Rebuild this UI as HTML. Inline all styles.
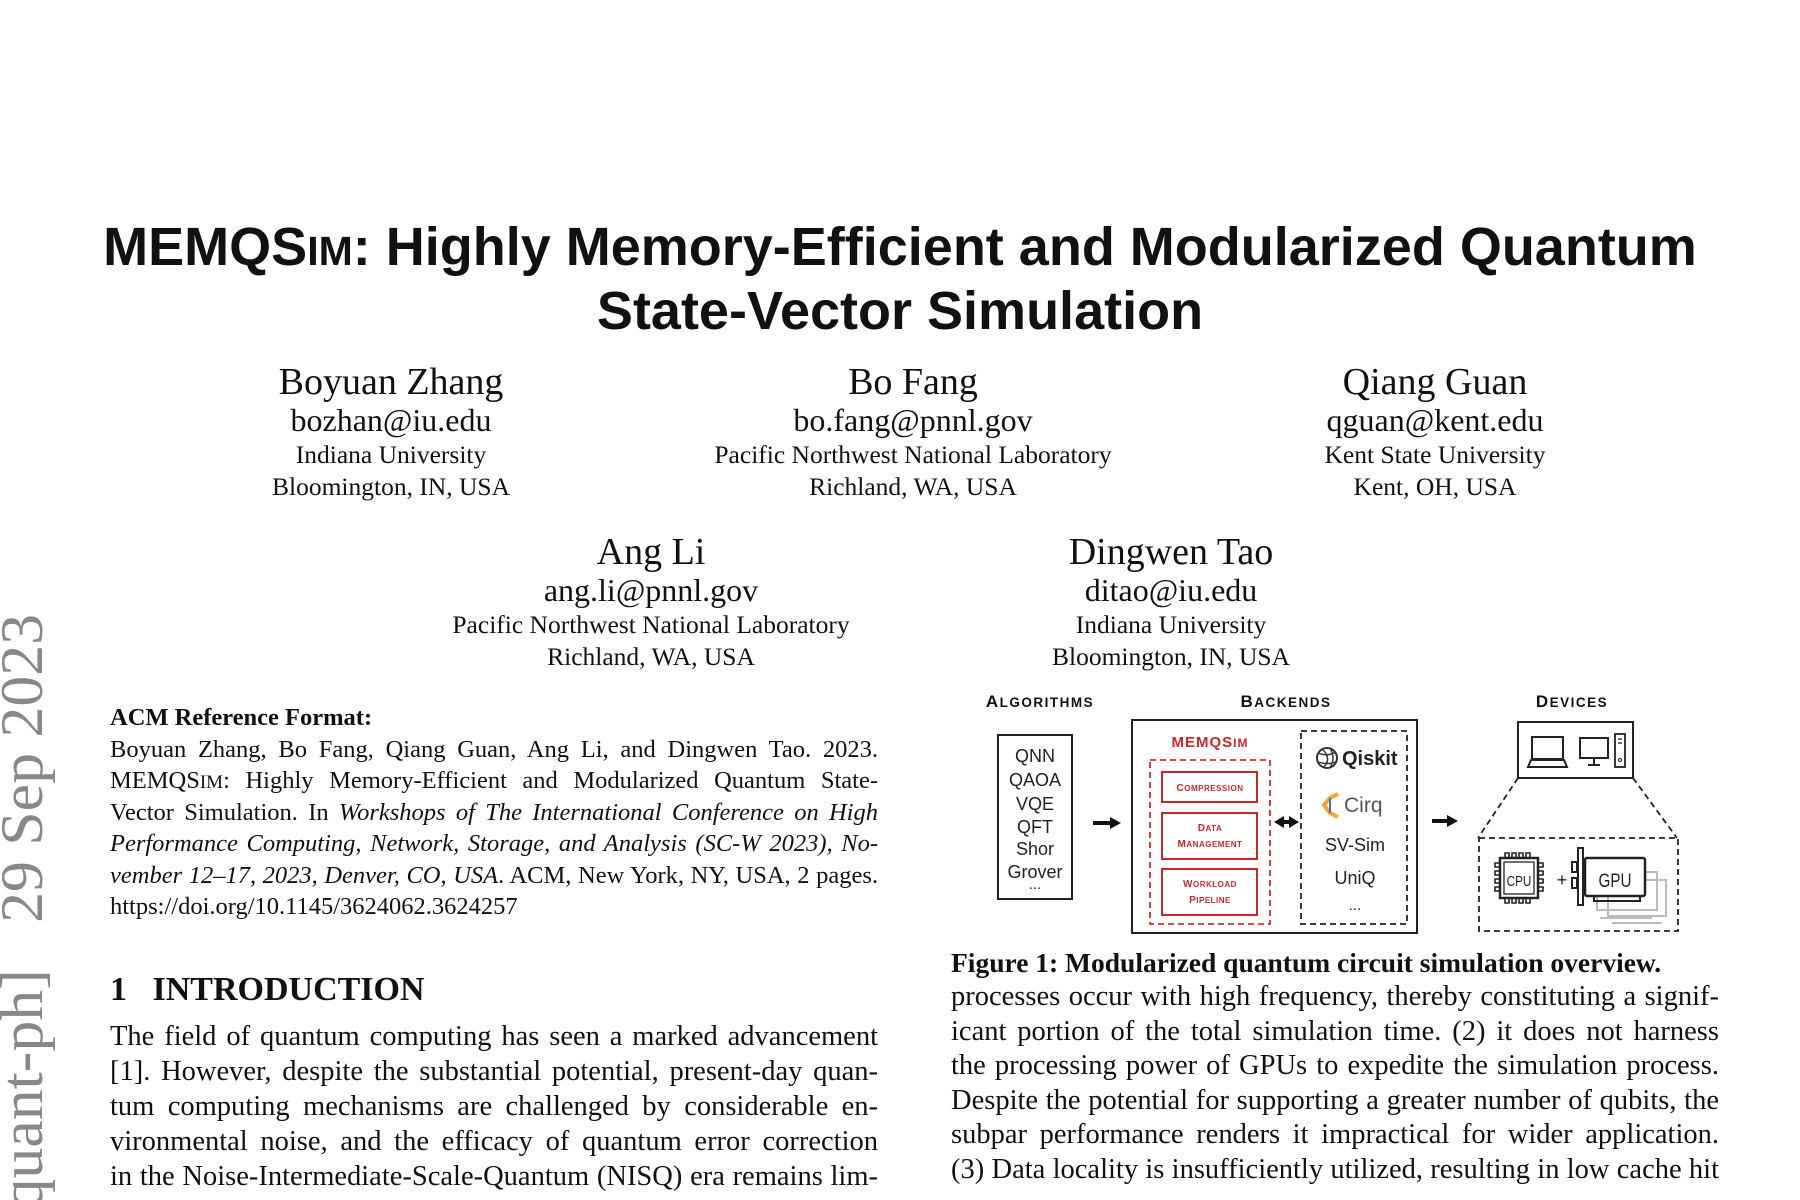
<!DOCTYPE html>
<html><head><meta charset="utf-8"><style>
html,body{margin:0;padding:0;background:#fff}
body{width:1800px;height:1200px;position:relative;overflow:hidden;font-family:"Liberation Serif",serif;color:#111}
.a{position:absolute;white-space:nowrap}
.c{transform:translateX(-50%);text-align:center}
.title{font-family:"Liberation Sans",sans-serif;font-weight:bold;font-size:54px;left:0;width:1800px;text-align:center}
.nm{font-size:38px}
.em{font-size:32px}
.af{font-size:25.5px}
.jl{position:absolute;left:110px;width:768px;text-align:justify;text-align-last:justify;white-space:nowrap}
.rl{position:absolute;left:951px;width:768px;text-align:justify;text-align-last:justify;white-space:nowrap}
.ref{font-size:24.5px}
.body{font-size:28.5px}
</style></head><body>

<div class="a title" style="top:216px">MEMQS<span style="font-size:41px">IM</span>: Highly Memory-Efficient and Modularized Quantum</div>
<div class="a title" style="top:280px">State-Vector Simulation</div>

<div class="a c nm" style="left:391px;top:360px">Boyuan Zhang</div>
<div class="a c em" style="left:391px;top:402px">bozhan@iu.edu</div>
<div class="a c af" style="left:391px;top:440px">Indiana University</div>
<div class="a c af" style="left:391px;top:472px">Bloomington, IN, USA</div>

<div class="a c nm" style="left:913px;top:360px">Bo Fang</div>
<div class="a c em" style="left:913px;top:402px">bo.fang@pnnl.gov</div>
<div class="a c af" style="left:913px;top:440px">Pacific Northwest National Laboratory</div>
<div class="a c af" style="left:913px;top:472px">Richland, WA, USA</div>

<div class="a c nm" style="left:1435px;top:360px">Qiang Guan</div>
<div class="a c em" style="left:1435px;top:402px">qguan@kent.edu</div>
<div class="a c af" style="left:1435px;top:440px">Kent State University</div>
<div class="a c af" style="left:1435px;top:472px">Kent, OH, USA</div>

<div class="a c nm" style="left:651px;top:530px">Ang Li</div>
<div class="a c em" style="left:651px;top:572px">ang.li@pnnl.gov</div>
<div class="a c af" style="left:651px;top:610px">Pacific Northwest National Laboratory</div>
<div class="a c af" style="left:651px;top:642px">Richland, WA, USA</div>

<div class="a c nm" style="left:1171px;top:530px">Dingwen Tao</div>
<div class="a c em" style="left:1171px;top:572px">ditao@iu.edu</div>
<div class="a c af" style="left:1171px;top:610px">Indiana University</div>
<div class="a c af" style="left:1171px;top:642px">Bloomington, IN, USA</div>

<div class="a ref" style="left:110px;top:704px;font-weight:bold">ACM Reference Format:</div>
<div class="jl ref" style="top:736px">Boyuan Zhang, Bo Fang, Qiang Guan, Ang Li, and Dingwen Tao. 2023.</div>
<div class="jl ref" style="top:767px">MEMQS<span style="font-size:19px">IM</span>: Highly Memory-Efficient and Modularized Quantum State-</div>
<div class="jl ref" style="top:799px">Vector Simulation. In <i>Workshops of The International Conference on High</i></div>
<div class="jl ref" style="top:830px"><i>Performance Computing, Network, Storage, and Analysis (SC-W 2023), No-</i></div>
<div class="jl ref" style="top:862px"><i>vember 12–17, 2023, Denver, CO, USA</i>. ACM, New York, NY, USA, 2 pages.</div>
<div class="a ref" style="left:110px;top:893px">https://doi.org/10.1145/3624062.3624257</div>

<div class="a" style="left:110px;top:971px;font-size:34px;font-weight:bold">1&nbsp;&nbsp;&nbsp;INTRODUCTION</div>
<div class="jl body" style="top:1021px">The field of quantum computing has seen a marked advancement</div>
<div class="jl body" style="top:1056px">[1]. However, despite the substantial potential, present-day quan-</div>
<div class="jl body" style="top:1091px">tum computing mechanisms are challenged by considerable en-</div>
<div class="jl body" style="top:1126px">vironmental noise, and the efficacy of quantum error correction</div>
<div class="jl body" style="top:1161px">in the Noise-Intermediate-Scale-Quantum (NISQ) era remains lim-</div>

<div class="a" style="left:951px;top:947px;font-size:27.5px;font-weight:bold">Figure 1: Modularized quantum circuit simulation overview.</div>
<div class="rl body" style="top:981px">processes occur with high frequency, thereby constituting a signif-</div>
<div class="rl body" style="top:1016px">icant portion of the total simulation time. (2) it does not harness</div>
<div class="rl body" style="top:1050px">the processing power of GPUs to expedite the simulation process.</div>
<div class="rl body" style="top:1085px">Despite the potential for supporting a greater number of qubits, the</div>
<div class="rl body" style="top:1119px">subpar performance renders it impractical for wider application.</div>
<div class="rl body" style="top:1154px">(3) Data locality is insufficiently utilized, resulting in low cache hit</div>

<svg class="a" style="left:0;top:0" width="1800" height="1200" viewBox="0 0 1800 1200">
<text transform="translate(42,614) rotate(-90) scale(1.03,1)" text-anchor="end" font-family="Liberation Serif" font-size="60" fill="#888">arXiv:2310.01234v1&#160;&#160;[quant-ph]&#160;&#160;&#160;29 Sep 2023</text>

<g font-family="Liberation Sans,sans-serif" font-weight="bold" fill="#111">
<text x="1040" y="707" font-size="17" text-anchor="middle" letter-spacing="1.5">A<tspan font-size="13.5">LGORITHMS</tspan></text>
<text x="1286" y="707" font-size="17" text-anchor="middle" letter-spacing="1.5">B<tspan font-size="13.5">ACKENDS</tspan></text>
<text x="1572" y="707" font-size="17" text-anchor="middle" letter-spacing="1.5">D<tspan font-size="13.5">EVICES</tspan></text>
</g>
<rect x="998" y="735" width="74" height="164" fill="none" stroke="#222" stroke-width="2"/>
<g font-family="Liberation Sans,sans-serif" font-size="18" fill="#222" text-anchor="middle">
<text x="1035" y="762">QNN</text><text x="1035" y="786">QAOA</text><text x="1035" y="810">VQE</text>
<text x="1035" y="833">QFT</text><text x="1035" y="855">Shor</text><text x="1035" y="878">Grover</text>
<text x="1035" y="889" font-size="15">...</text>
</g>
<path d="M1093 823 H1112" stroke="#111" stroke-width="4"/><path d="M1110 817 L1121 823 L1110 829Z" fill="#111"/>
<path d="M1281 822 H1292" stroke="#111" stroke-width="4"/><path d="M1284 816 L1274 822 L1284 828Z M1289 816 L1299 822 L1289 828Z" fill="#111"/>
<path d="M1432 821 H1449" stroke="#111" stroke-width="4"/><path d="M1447 815 L1458 821 L1447 827Z" fill="#111"/>

<rect x="1132" y="720" width="285" height="213" fill="none" stroke="#222" stroke-width="2"/>
<text x="1210" y="747" font-family="Liberation Sans,sans-serif" font-weight="bold" font-size="15" fill="#c8282a" text-anchor="middle" letter-spacing="1">MEMQS<tspan font-size="12">IM</tspan></text>
<rect x="1150" y="760" width="120" height="164" fill="none" stroke="#d03030" stroke-width="1.8" stroke-dasharray="6,4"/>
<g fill="none" stroke="#c8282a" stroke-width="2">
<rect x="1162" y="772" width="95" height="30"/><rect x="1162" y="813" width="95" height="46"/><rect x="1162" y="869" width="95" height="46"/>
</g>
<g font-family="Liberation Sans,sans-serif" font-weight="bold" font-size="10" fill="#c8282a" text-anchor="middle" letter-spacing="0.5">
<text x="1210" y="791">C<tspan font-size="8">OMPRESSION</tspan></text>
<text x="1210" y="831">D<tspan font-size="8">ATA</tspan></text>
<text x="1210" y="847">M<tspan font-size="8">ANAGEMENT</tspan></text>
<text x="1210" y="887">W<tspan font-size="8">ORKLOAD</tspan></text>
<text x="1210" y="903">P<tspan font-size="8">IPELINE</tspan></text>
</g>
<rect x="1301" y="731" width="106" height="193" fill="none" stroke="#222" stroke-width="1.8" stroke-dasharray="6,4"/>
<circle cx="1327" cy="758" r="10" fill="none" stroke="#333" stroke-width="2"/>
<path d="M1318 753 Q1327 757 1336 752 M1318 762 Q1328 765 1336 762 M1322 749 Q1332 758 1324 767 M1330 748 Q1336 758 1330 768" fill="none" stroke="#333" stroke-width="1.4"/>
<text x="1342" y="765" font-family="Liberation Sans,sans-serif" font-size="20" font-weight="bold" fill="#222">Qiskit</text>
<path d="M1338 794 L1330 798 L1324 805 L1330 813 L1338 817" fill="none" stroke="#f5a623" stroke-width="4"/>
<path d="M1330 798 L1330 813" fill="none" stroke="#3b6fd8" stroke-width="2"/>
<text x="1344" y="812" font-family="Liberation Sans,sans-serif" font-size="21" fill="#555">Cirq</text>
<g font-family="Liberation Sans,sans-serif" font-size="18" fill="#222" text-anchor="middle">
<text x="1355" y="851">SV-Sim</text><text x="1355" y="884">UniQ</text><text x="1355" y="910" font-size="15">...</text>
</g>

<rect x="1518" y="722" width="115" height="56" fill="none" stroke="#222" stroke-width="2"/>
<rect x="1532" y="737" width="31" height="22" fill="none" stroke="#222" stroke-width="2"/>
<path d="M1528 767 L1531 760 H1564 L1567 767 Z" fill="none" stroke="#222" stroke-width="2"/>
<rect x="1580" y="738" width="28" height="20" fill="none" stroke="#222" stroke-width="2"/>
<path d="M1594 758 V764 M1588 765 H1600" stroke="#222" stroke-width="2"/>
<rect x="1615" y="734" width="10" height="33" fill="none" stroke="#222" stroke-width="1.8"/>
<path d="M1618 739 H1622 M1618 743 H1622" stroke="#222" stroke-width="1.2"/><circle cx="1620" cy="760" r="1.5" fill="none" stroke="#222"/>
<path d="M1518 778 L1478 838 M1633 778 L1677 838" stroke="#222" stroke-width="1.8" stroke-dasharray="6,4"/>
<rect x="1479" y="838" width="199" height="93" fill="none" stroke="#222" stroke-width="1.8" stroke-dasharray="6,4"/>
<rect x="1500" y="858" width="38" height="40" fill="none" stroke="#222" stroke-width="2.5"/>
<rect x="1504" y="862" width="30" height="32" fill="none" stroke="#222" stroke-width="1.3"/>
<g fill="none" stroke="#222" stroke-width="1.6">
<path d="M1505 858 v-5 h4 v5 M1512 858 v-5 h4 v5 M1519 858 v-5 h4 v5 M1526 858 v-5 h4 v5"/>
<path d="M1505 898 v5 h4 v-5 M1512 898 v5 h4 v-5 M1519 898 v5 h4 v-5 M1526 898 v5 h4 v-5"/>
<path d="M1500 863 h-5 v4 h5 M1500 871 h-5 v4 h5 M1500 879 h-5 v4 h5 M1500 887 h-5 v4 h5"/>
<path d="M1538 863 h5 v4 h-5 M1538 871 h5 v4 h-5 M1538 879 h5 v4 h-5 M1538 887 h5 v4 h-5"/>
</g>
<text x="1519" y="886" font-family="Liberation Sans,sans-serif" font-size="15" fill="#222" text-anchor="middle" transform="translate(1519 0) scale(0.78 1) translate(-1519 0)">CPU</text>
<text x="1562" y="886" font-family="Liberation Sans,sans-serif" font-size="18" fill="#222" text-anchor="middle">+</text>
<g fill="none" stroke="#bbb" stroke-width="2">
<rect x="1597" y="872" width="60" height="38"/><rect x="1608" y="880" width="58" height="36"/>
<path d="M1600 918 h52 M1612 923 h50"/>
</g>
<rect x="1585" y="858" width="60" height="38" rx="2" fill="#fff" stroke="#222" stroke-width="2.5"/>
<path d="M1578 848 h5 v57 h-5z M1572 862 h5 v10 h-5z M1572 878 h5 v10 h-5z" fill="none" stroke="#222" stroke-width="2"/>
<path d="M1594 896 v5 h46 v-5" fill="none" stroke="#222" stroke-width="2"/>
<text x="1615" y="887" font-family="Liberation Sans,sans-serif" font-size="19" fill="#222" text-anchor="middle" transform="translate(1615 0) scale(0.8 1) translate(-1615 0)">GPU</text>
</svg>
</body></html>
